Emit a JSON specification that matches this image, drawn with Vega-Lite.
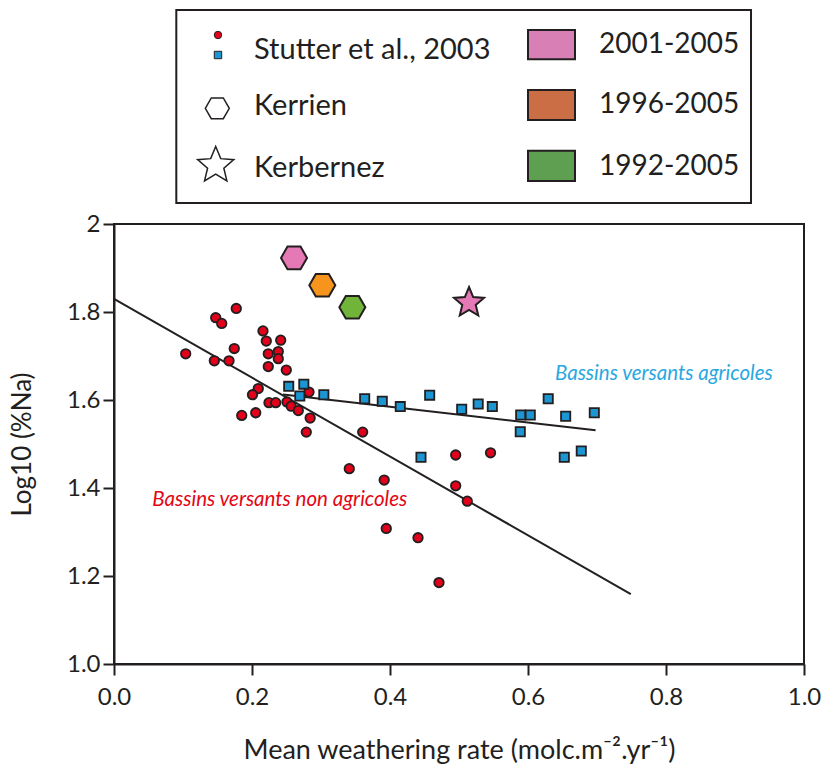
{
  "$schema": "https://vega.github.io/schema/vega-lite/v6.json",
  "padding": {"left": 8, "top": 9, "right": 5, "bottom": 0},
  "spacing": 7,
  "resolve": {"scale": {"color": "independent"}},
  "config": {
    "font": "Lato",
    "view": {"stroke": null},
    "axis": {
      "grid": false,
      "domainColor": "#231f20",
      "domainWidth": 2,
      "tickColor": "#231f20",
      "tickWidth": 2,
      "tickSize": 11,
      "labelFont": "Lato",
      "labelFontSize": 24,
      "labelColor": "#231f20",
      "labelFlush": false,
      "labelOverlap": false,
      "labelBound": false,
      "titleFont": "Lato",
      "titleFontSize": 26,
      "titleFontWeight": "normal",
      "titleColor": "#231f20"
    }
  },
  "vconcat": [
    {
      "width": 690,
      "height": 193,
      "view": {"stroke": null},
      "layer": [
        {
          "data": {"values": [{"x1": 0.0903, "x2": 0.9232, "y1": 0, "y2": 1}]},
          "mark": {"type": "rect", "fill": "white", "stroke": "#231f20", "strokeWidth": 2},
          "encoding": {
            "x": {"field": "x1", "type": "quantitative", "scale": {"domain": [0, 1], "nice": false, "zero": false}, "axis": null},
            "x2": {"field": "x2"},
            "y": {"field": "y1", "type": "quantitative", "scale": {"domain": [0, 1], "reverse": true, "nice": false, "zero": false}, "axis": null},
            "y2": {"field": "y2"}
          }
        },
        {
          "data": {"values": [{"x": 0.1507, "y": 0.1295}]},
          "mark": {"type": "point", "shape": "circle", "filled": true, "fill": "#e2001a", "stroke": "#231f20", "strokeWidth": 1, "size": 55, "opacity": 1},
          "encoding": {
            "x": {"field": "x", "type": "quantitative"},
            "y": {"field": "y", "type": "quantitative"}
          }
        },
        {
          "data": {"values": [{"x": 0.1507, "y": 0.2332}]},
          "mark": {"type": "point", "shape": "square", "filled": true, "fill": "#1b96d3", "stroke": "#231f20", "strokeWidth": 1, "size": 55, "opacity": 1},
          "encoding": {
            "x": {"field": "x", "type": "quantitative"},
            "y": {"field": "y", "type": "quantitative"}
          }
        },
        {
          "data": {"values": [{"x": 0.1497, "y": 0.5093}]},
          "mark": {"type": "point", "shape": "M-1,0L-0.5,-0.866L0.5,-0.866L1,0L0.5,0.866L-0.5,0.866Z", "filled": false, "stroke": "#231f20", "strokeWidth": 1.5, "size": 576, "opacity": 1},
          "encoding": {
            "x": {"field": "x", "type": "quantitative"},
            "y": {"field": "y", "type": "quantitative"}
          }
        },
        {
          "data": {"values": [{"x": 0.1474, "y": 0.806}]},
          "mark": {"type": "point", "shape": "M0,-1L0.2645,-0.3641L0.9511,-0.309L0.428,0.1391L0.5878,0.809L0,0.45L-0.5878,0.809L-0.428,0.1391L-0.9511,-0.309L-0.2645,-0.3641Z", "filled": false, "stroke": "#231f20", "strokeWidth": 1.5, "size": 1444, "opacity": 1},
          "encoding": {
            "x": {"field": "x", "type": "quantitative"},
            "y": {"field": "y", "type": "quantitative"}
          }
        },
        {
          "data": {"values": [
            {"x": 0.2029, "y": 0.2554, "label": "Stutter et al., 2003"},
            {"x": 0.2029, "y": 0.544, "label": "Kerrien"},
            {"x": 0.2029, "y": 0.8637, "label": "Kerbernez"}
          ]},
          "mark": {"type": "text", "align": "left", "baseline": "alphabetic", "fontSize": 29, "font": "Lato", "color": "#231f20"},
          "encoding": {
            "x": {"field": "x", "type": "quantitative"},
            "y": {"field": "y", "type": "quantitative"},
            "text": {"field": "label"}
          }
        },
        {
          "data": {"values": [
            {"x1": 0.6, "x2": 0.6681, "y1": 0.1036, "y2": 0.2554, "period": "2001-2005"},
            {"x1": 0.6, "x2": 0.6681, "y1": 0.4145, "y2": 0.5699, "period": "1996-2005"},
            {"x1": 0.6, "x2": 0.6681, "y1": 0.729, "y2": 0.886, "period": "1992-2005"}
          ]},
          "mark": {"type": "rect", "stroke": "#231f20", "strokeWidth": 2},
          "encoding": {
            "x": {"field": "x1", "type": "quantitative"},
            "x2": {"field": "x2"},
            "y": {"field": "y1", "type": "quantitative"},
            "y2": {"field": "y2"},
            "color": {"field": "period", "type": "nominal", "scale": {"domain": ["2001-2005", "1996-2005", "1992-2005"], "range": ["#d880b5", "#cb6e45", "#5f9f51"]}, "legend": null}
          }
        },
        {
          "data": {"values": [
            {"x": 0.7029, "y": 0.2244, "label": "2001-2005"},
            {"x": 0.7029, "y": 0.5352, "label": "1996-2005"},
            {"x": 0.7029, "y": 0.855, "label": "1992-2005"}
          ]},
          "mark": {"type": "text", "align": "left", "baseline": "alphabetic", "fontSize": 28, "font": "Lato", "color": "#231f20"},
          "encoding": {
            "x": {"field": "x", "type": "quantitative"},
            "y": {"field": "y", "type": "quantitative"},
            "text": {"field": "label"}
          }
        }
      ]
    },
    {
      "width": 690,
      "height": 440,
      "view": {"stroke": "#231f20", "strokeWidth": 2},
      "encoding": {
        "x": {"field": "x", "type": "quantitative", "scale": {"domain": [0, 1], "nice": false, "zero": false},
              "axis": {"values": [0, 0.2, 0.4, 0.6, 0.8, 1], "labelExpr": "format(datum.value, '.1f')", "labelPadding": 10, "title": "Mean weathering rate (molc.m⁻².yr⁻¹)", "titleFontSize": 27, "titlePadding": 28}},
        "y": {"field": "y", "type": "quantitative", "scale": {"domain": [1, 2], "nice": false, "zero": false},
              "axis": {"values": [1, 1.2, 1.4, 1.6, 1.8, 2], "labelExpr": "datum.value == 2 ? '2' : format(datum.value, '.1f')", "labelPadding": 3, "title": "Log10 (%Na)", "titlePadding": 31}}
      },
      "layer": [
        {
          "data": {"values": [
            {"x": 0, "y": 1.83, "group": "non"},
            {"x": 0.749, "y": 1.159, "group": "non"},
            {"x": 0.245, "y": 1.6125, "group": "agri"},
            {"x": 0.698, "y": 1.531, "group": "agri"}
          ]},
          "mark": {"type": "line", "color": "#231f20", "strokeWidth": 2},
          "encoding": {"detail": {"field": "group"}}
        },
        {
          "data": {"values": [
            {"x": 0.1772, "y": 1.808}, {"x": 0.1474, "y": 1.787}, {"x": 0.1561, "y": 1.774},
            {"x": 0.2159, "y": 1.757}, {"x": 0.2416, "y": 1.736}, {"x": 0.2207, "y": 1.734},
            {"x": 0.1743, "y": 1.717}, {"x": 0.1039, "y": 1.705}, {"x": 0.2236, "y": 1.705},
            {"x": 0.2381, "y": 1.71}, {"x": 0.2381, "y": 1.694}, {"x": 0.1454, "y": 1.689},
            {"x": 0.1667, "y": 1.689}, {"x": 0.2236, "y": 1.676}, {"x": 0.2497, "y": 1.668},
            {"x": 0.2091, "y": 1.626}, {"x": 0.2007, "y": 1.612}, {"x": 0.2246, "y": 1.594},
            {"x": 0.2343, "y": 1.594}, {"x": 0.2507, "y": 1.5955}, {"x": 0.2568, "y": 1.586},
            {"x": 0.2671, "y": 1.576}, {"x": 0.2826, "y": 1.618}, {"x": 0.1851, "y": 1.565},
            {"x": 0.2054, "y": 1.571}, {"x": 0.2843, "y": 1.559}, {"x": 0.2787, "y": 1.527},
            {"x": 0.3604, "y": 1.527}, {"x": 0.341, "y": 1.444}, {"x": 0.3916, "y": 1.418},
            {"x": 0.3946, "y": 1.308}, {"x": 0.4406, "y": 1.287}, {"x": 0.471, "y": 1.185},
            {"x": 0.4952, "y": 1.475}, {"x": 0.5457, "y": 1.48}, {"x": 0.4952, "y": 1.405},
            {"x": 0.512, "y": 1.37}
          ]},
          "mark": {"type": "point", "shape": "circle", "filled": true, "fill": "#e2001a", "stroke": "#231f20", "strokeWidth": 1.8, "size": 90, "opacity": 1}
        },
        {
          "data": {"values": [
            {"x": 0.2532, "y": 1.631}, {"x": 0.2751, "y": 1.636}, {"x": 0.2693, "y": 1.609},
            {"x": 0.3041, "y": 1.612}, {"x": 0.3633, "y": 1.603}, {"x": 0.3888, "y": 1.597},
            {"x": 0.4149, "y": 1.585}, {"x": 0.4575, "y": 1.611}, {"x": 0.5039, "y": 1.579},
            {"x": 0.5278, "y": 1.591}, {"x": 0.5483, "y": 1.585}, {"x": 0.5894, "y": 1.566},
            {"x": 0.6033, "y": 1.566}, {"x": 0.5888, "y": 1.528}, {"x": 0.6293, "y": 1.603},
            {"x": 0.4449, "y": 1.47}, {"x": 0.6546, "y": 1.563}, {"x": 0.6961, "y": 1.571},
            {"x": 0.6526, "y": 1.47}, {"x": 0.6772, "y": 1.484}
          ]},
          "mark": {"type": "point", "shape": "square", "filled": true, "fill": "#1b96d3", "stroke": "#231f20", "strokeWidth": 1.8, "size": 85, "opacity": 1}
        },
        {
          "data": {"values": [
            {"x": 0.2609, "y": 1.923, "period": "2001-2005"},
            {"x": 0.3019, "y": 1.861, "period": "1996-2005"},
            {"x": 0.3454, "y": 1.811, "period": "1992-2005"}
          ]},
          "mark": {"type": "point", "shape": "M-1,0L-0.5,-0.866L0.5,-0.866L1,0L0.5,0.866L-0.5,0.866Z", "filled": true, "stroke": "#231f20", "strokeWidth": 2, "size": 676, "opacity": 1},
          "encoding": {
            "fill": {"field": "period", "type": "nominal", "scale": {"domain": ["2001-2005", "1996-2005", "1992-2005"], "range": ["#e479b6", "#f7941d", "#70b43a"]}, "legend": null}
          }
        },
        {
          "data": {"values": [{"x": 0.5145, "y": 1.821, "period": "2001-2005"}]},
          "mark": {"type": "point", "shape": "M0,-1L0.2645,-0.3641L0.9511,-0.309L0.428,0.1391L0.5878,0.809L0,0.45L-0.5878,0.809L-0.428,0.1391L-0.9511,-0.309L-0.2645,-0.3641Z", "filled": true, "stroke": "#231f20", "strokeWidth": 2, "size": 994, "opacity": 1},
          "encoding": {
            "fill": {"field": "period", "type": "nominal", "scale": {"domain": ["2001-2005", "1996-2005", "1992-2005"], "range": ["#e479b6", "#f7941d", "#70b43a"]}, "legend": null}
          }
        },
        {
          "data": {"values": [{"x": 0.0556, "y": 1.3587, "label": "Bassins versants non agricoles"}]},
          "mark": {"type": "text", "align": "left", "baseline": "alphabetic", "fontSize": 20.5, "fontStyle": "italic", "font": "Lato", "color": "#e30613"},
          "encoding": {"text": {"field": "label"}}
        },
        {
          "data": {"values": [{"x": 0.6391, "y": 1.6463, "label": "Bassins versants agricoles"}]},
          "mark": {"type": "text", "align": "left", "baseline": "alphabetic", "fontSize": 20.5, "fontStyle": "italic", "font": "Lato", "color": "#29a8e0"},
          "encoding": {"text": {"field": "label"}}
        }
      ]
    }
  ]
}
